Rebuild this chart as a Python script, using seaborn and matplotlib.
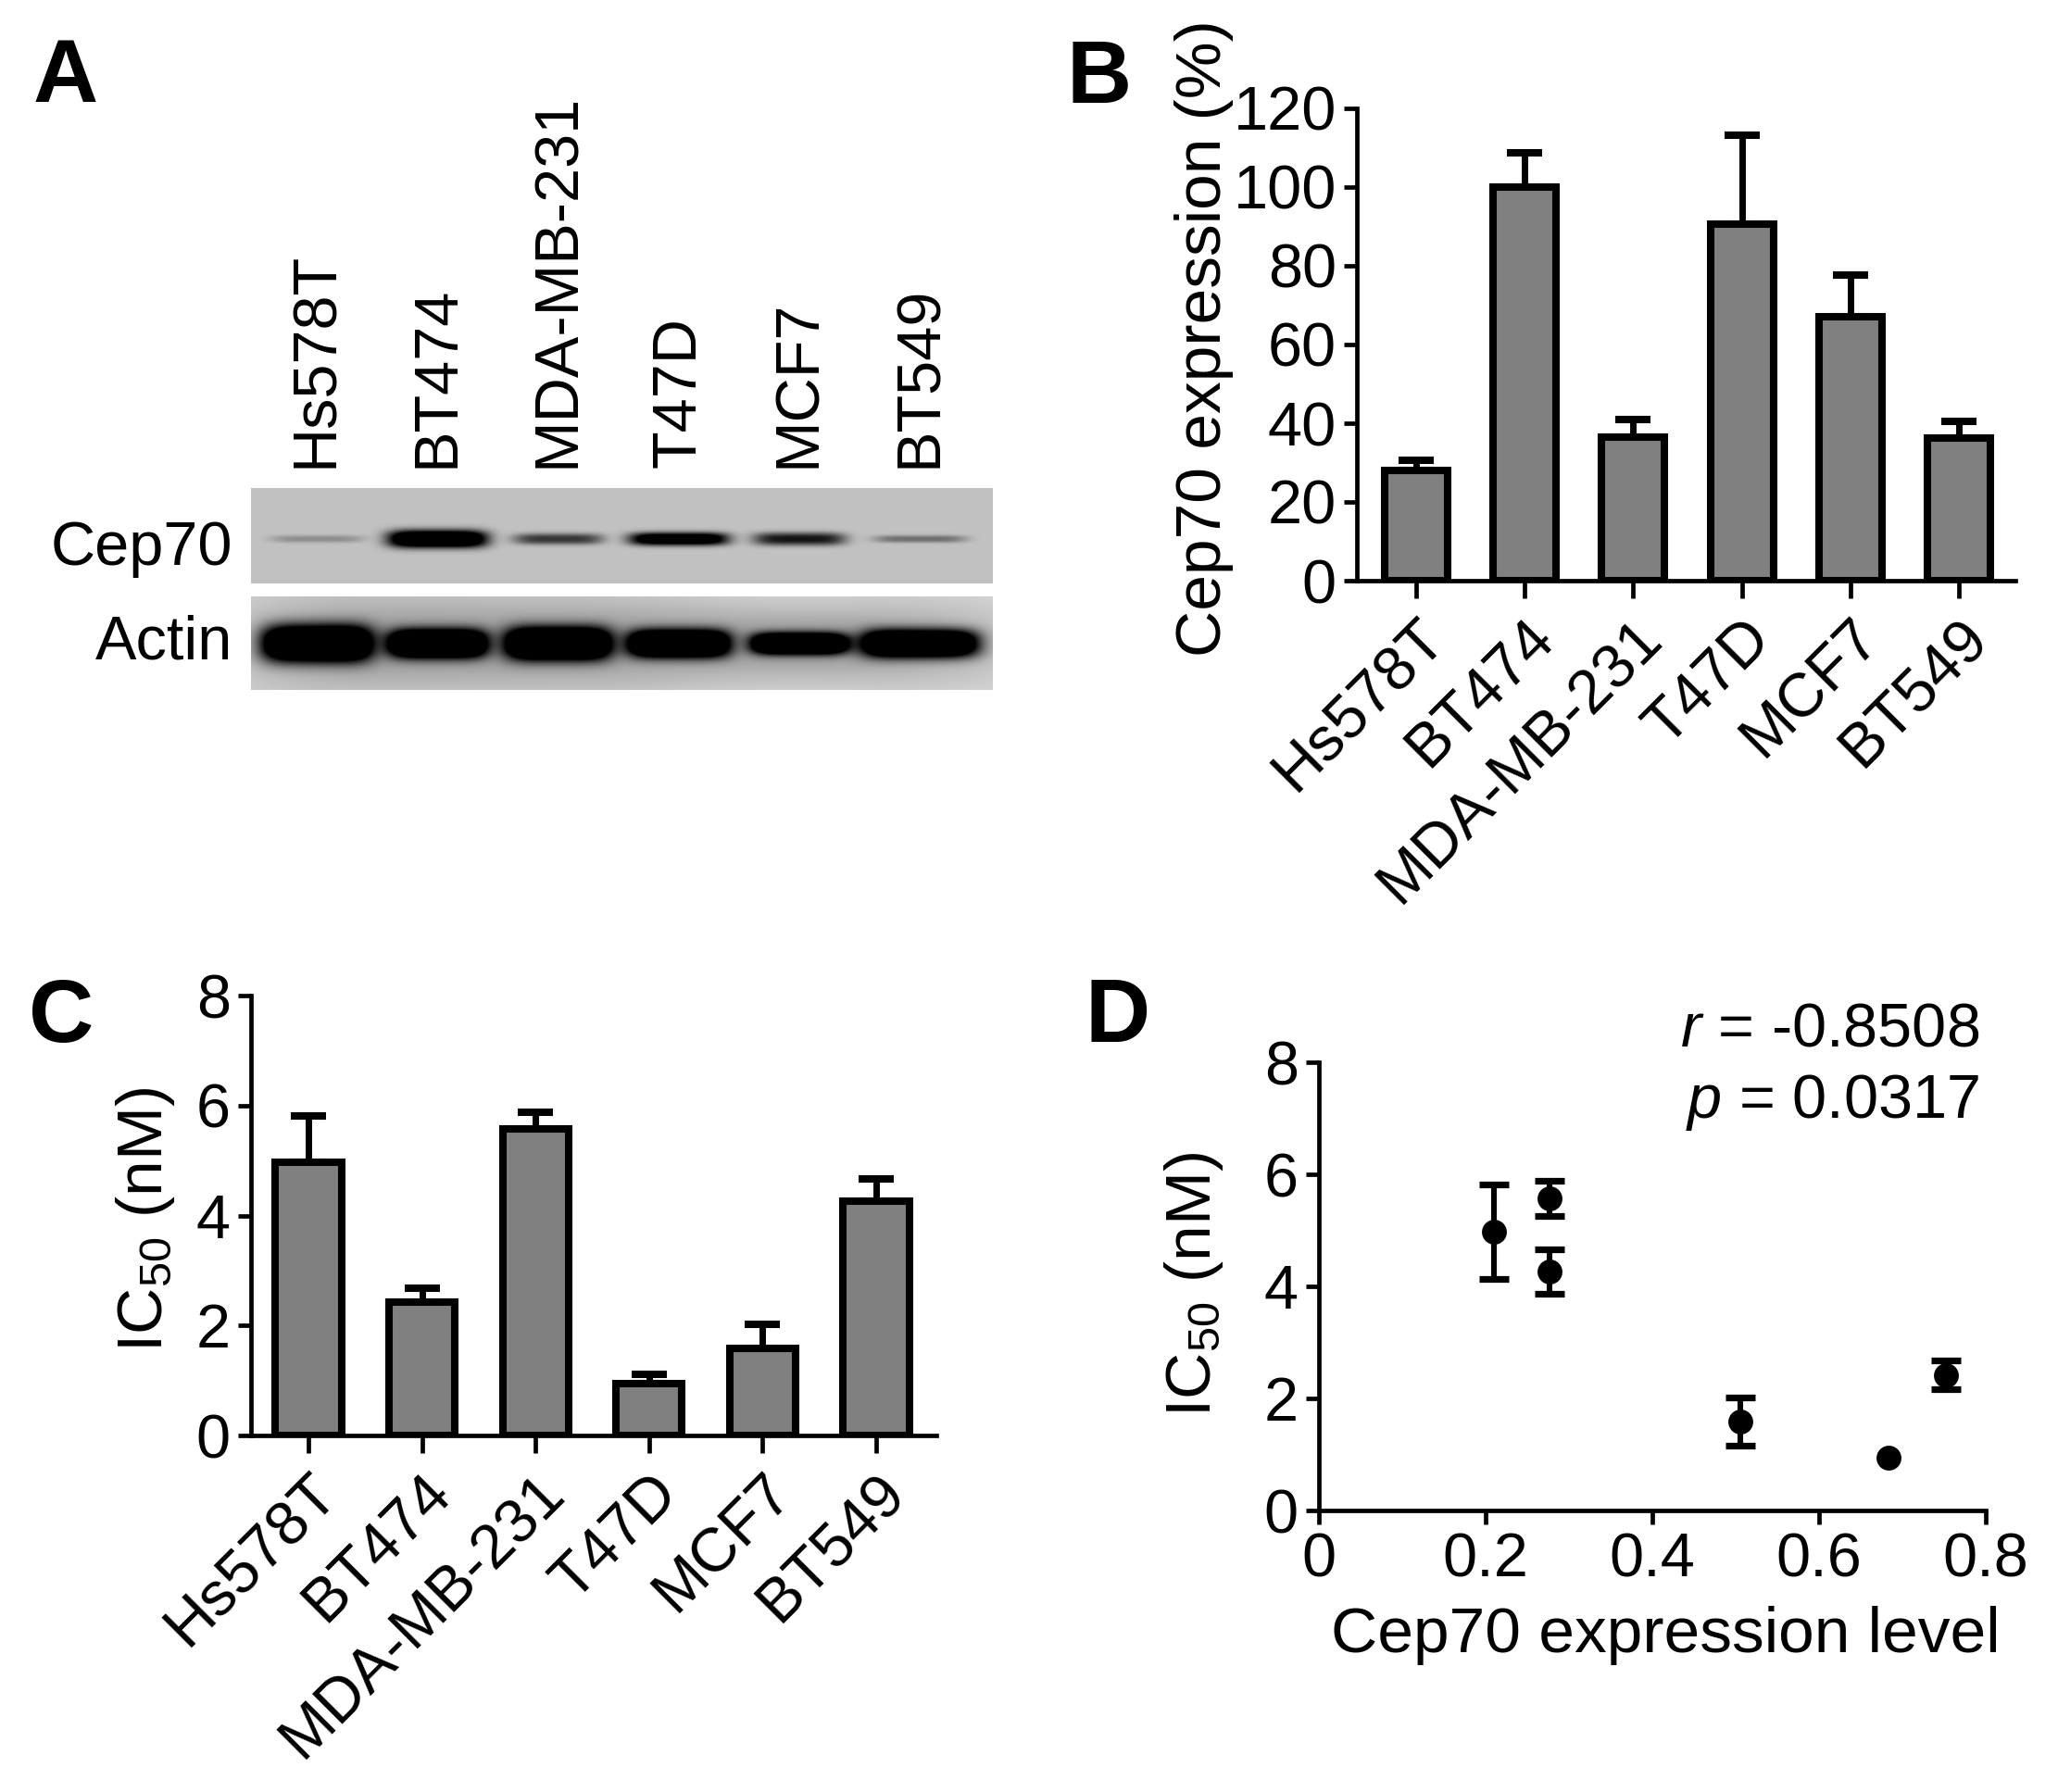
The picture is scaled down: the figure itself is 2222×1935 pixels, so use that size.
import numpy as np
import pandas as pd
import matplotlib
matplotlib.use("Agg")
import matplotlib.pyplot as plt
import seaborn as sns

# ---- data ----
cells = ["Hs578T", "BT474", "MDA-MB-231", "T47D", "MCF7", "BT549"]

# B: Cep70 expression (%) mean and SEM
cep70_pct = [28, 100, 36.5, 90.6, 67, 36.2]
cep70_sem = [2.5, 8.8, 4.5, 22.6, 10.6, 4.3]

# C: IC50 (nM) mean and SEM
ic50 = [4.97, 2.42, 5.57, 0.94, 1.59, 4.26]
ic50_sem = [0.84, 0.26, 0.31, 0.17, 0.43, 0.40]

# D: Cep70 expression level (x) vs IC50
cep70_level = [0.21, 0.752, 0.277, 0.683, 0.505, 0.277]
r_text = "-0.8508"
p_text = "0.0317"

# A: western blot band densities (0-1), band widths / heights in px
cep70_band = [0.15, 0.95, 0.4, 0.8, 0.5, 0.24]
cep70_band_w = [100, 108, 97, 108, 100, 100]
cep70_band_h = [8, 19, 12, 14, 14, 8]
actin_band = [1.0, 1.0, 1.0, 1.0, 1.0, 1.0]
actin_band_w = [121, 108, 116, 111, 105, 127]
actin_band_h = [40, 31, 36, 30, 23, 30]

W, H = 2222, 1935
DPI = 200
FS = 24

sns.set_style("ticks")
plt.rcParams["font.family"] = ["Liberation Sans", "DejaVu Sans"]
plt.rcParams["mathtext.fontset"] = "custom"
plt.rcParams["mathtext.rm"] = "Liberation Sans"
plt.rcParams["mathtext.it"] = "Liberation Sans:italic"
plt.rcParams["mathtext.bf"] = "Liberation Sans:bold"
for key in ["text.color", "axes.labelcolor", "xtick.color", "ytick.color", "axes.edgecolor"]:
    plt.rcParams[key] = "black"
plt.rcParams["axes.linewidth"] = 1.6

fig = plt.figure(figsize=(W / DPI, H / DPI), dpi=DPI)


def px_axes(x0, y0, x1, y1):
    return fig.add_axes([x0 / W, 1 - y1 / H, (x1 - x0) / W, (y1 - y0) / H])


def fpos(x, y):
    return x / W, 1 - y / H


def style_axes(ax):
    sns.despine(ax=ax)
    for s in ["left", "bottom"]:
        ax.spines[s].set_linewidth(1.7)
    ax.tick_params(axis="both", direction="out", width=1.7, labelsize=FS, colors="black")
    ax.tick_params(axis="y", length=5, pad=3)


# ---- A: western blot ----
XL = (-0.545, 5.6)
lane_px = (1072 - 271) / (XL[1] - XL[0])


def make_strip(dens, widths, heights, n_rows, row, bg, gain, halo=0.0):
    x = np.linspace(XL[0], XL[1], 801)
    y = np.arange(n_rows) + 0.5
    dark = np.zeros((n_rows, x.size))
    for i, (d, w, h) in enumerate(zip(dens, widths, heights)):
        fx = np.exp(-np.abs((x - i) / (w / lane_px / 2)) ** 5)
        fy = np.exp(-np.abs((y - row) / (h / 2)) ** 2.5)
        dark += d * np.outer(fy, fx)
        if halo:
            hx = np.exp(-0.5 * ((x - i) / (w / lane_px * 0.7)) ** 2)
            hy = np.exp(-0.5 * ((y - row) / (h * 1.1)) ** 2)
            dark += halo * d * np.outer(hy, hx)
    return bg * (1 - np.clip(gain * dark, 0, 1))


ax_c = px_axes(271, 527, 1072, 630)
img_c = make_strip(cep70_band, cep70_band_w, cep70_band_h, 103, 55, 0.76, 1.8)
ax_c.imshow(img_c, cmap="gray", vmin=0, vmax=1, aspect="auto",
            extent=(XL[0], XL[1], 103, 0), interpolation="bilinear")
ax_c.set_xlim(*XL)
ax_c.set_ylim(103, 0)
ax_c.set_xticks(range(len(cells)))
ax_c.set_xticklabels(cells, rotation=90, ha="center", va="bottom")
ax_c.tick_params(axis="x", top=True, bottom=False, labeltop=True, labelbottom=False,
                 length=0, pad=8, labelsize=FS)
ax_c.set_yticks([59])
ax_c.set_yticklabels(["Cep70"])
ax_c.tick_params(axis="y", length=0, pad=7, labelsize=FS)
for s in ax_c.spines.values():
    s.set_visible(False)

ax_a = px_axes(271, 644, 1072, 745)
img_a = make_strip(actin_band, actin_band_w, actin_band_h, 101, 51, 0.86, 1.7, halo=0.12)
ax_a.imshow(img_a, cmap="gray", vmin=0, vmax=1, aspect="auto",
            extent=(XL[0], XL[1], 101, 0), interpolation="bilinear")
ax_a.set_xlim(*XL)
ax_a.set_ylim(101, 0)
ax_a.set_xticks([])
ax_a.set_yticks([44])
ax_a.set_yticklabels(["Actin"])
ax_a.tick_params(axis="y", length=0, pad=7, labelsize=FS)
for s in ax_a.spines.values():
    s.set_visible(False)

# ---- B: Cep70 expression bars ----
ax_b = px_axes(1465, 117, 2176, 627)
df_b = pd.DataFrame({"cell": cells, "expr": cep70_pct})
sns.barplot(data=df_b, x="cell", y="expr", order=cells, color="#808080", saturation=1,
            edgecolor="black", linewidth=2.9, width=0.58, errorbar=None, ax=ax_b, zorder=2)
ax_b.errorbar(range(len(cells)), cep70_pct, yerr=[np.zeros(len(cells)), cep70_sem],
              fmt="none", ecolor="black", elinewidth=2.5, capsize=7, capthick=2.9, zorder=1)
ax_b.set_xlim(-0.546, 5.52)
ax_b.set_ylim(0, 120)
ax_b.set_yticks(range(0, 121, 20))
style_axes(ax_b)
ax_b.tick_params(axis="x", length=7, pad=4)
ax_b.set_xticks(range(len(cells)))
ax_b.set_xticklabels(cells, rotation=45, ha="right", va="top", rotation_mode="anchor")
ax_b.set_xlabel("")
ax_b.set_ylabel("Cep70 expression (%)", fontsize=25, va="center")
ax_b.yaxis.set_label_coords(*fpos(1300, 365), transform=fig.transFigure)

# ---- C: IC50 bars ----
ax_cc = px_axes(271, 1075, 1011, 1550)
df_c = pd.DataFrame({"cell": cells, "ic50": ic50})
sns.barplot(data=df_c, x="cell", y="ic50", order=cells, color="#808080", saturation=1,
            edgecolor="black", linewidth=2.9, width=0.58, errorbar=None, ax=ax_cc, zorder=2)
ax_cc.errorbar(range(len(cells)), ic50, yerr=[np.zeros(len(cells)), ic50_sem],
               fmt="none", ecolor="black", elinewidth=2.5, capsize=7, capthick=2.9, zorder=1)
ax_cc.set_xlim(-0.506, 5.53)
ax_cc.set_ylim(0, 8)
ax_cc.set_yticks(range(0, 9, 2))
style_axes(ax_cc)
ax_cc.tick_params(axis="x", length=7, pad=4)
ax_cc.set_xticks(range(len(cells)))
ax_cc.set_xticklabels(cells, rotation=45, ha="right", va="top", rotation_mode="anchor")
ax_cc.set_xlabel("")
ax_cc.set_ylabel(r"IC$_{50}$ (nM)", fontsize=25, va="center")
ax_cc.yaxis.set_label_coords(*fpos(157, 1317), transform=fig.transFigure)

# ---- D: correlation scatter ----
ax_d = px_axes(1424, 1147, 2144, 1631)
df_d = pd.DataFrame({"level": cep70_level, "ic50": ic50, "sem": ic50_sem})
# Prism hides error bars that are shorter than the symbol
shown = df_d[df_d["sem"] > 0.2]
ax_d.errorbar(shown["level"], shown["ic50"], yerr=shown["sem"], fmt="none", ecolor="black",
              elinewidth=2.2, capsize=5.7, capthick=2.6, zorder=2)
sns.scatterplot(data=df_d, x="level", y="ic50", color="black", edgecolor="black",
                s=80, ax=ax_d, zorder=3, clip_on=False)
ax_d.set_xlim(0, 0.8)
ax_d.set_ylim(0, 8)
ax_d.set_xticks([0, 0.2, 0.4, 0.6, 0.8])
ax_d.set_xticklabels(["0", "0.2", "0.4", "0.6", "0.8"])
ax_d.set_yticks(range(0, 9, 2))
style_axes(ax_d)
ax_d.tick_params(axis="x", length=5.5, pad=3)
ax_d.set_xlabel("Cep70 expression level", fontsize=25, va="center")
ax_d.xaxis.set_label_coords(*fpos(1798, 1766), transform=fig.transFigure)
ax_d.set_ylabel(r"IC$_{50}$ (nM)", fontsize=25, va="center")
ax_d.yaxis.set_label_coords(*fpos(1289, 1387), transform=fig.transFigure)
fig.text(*fpos(2137, 1129), r"$r$ = " + r_text, fontsize=FS, ha="right", va="baseline")
fig.text(*fpos(2137, 1207), r"$p$ = " + p_text, fontsize=FS, ha="right", va="baseline")

# ---- panel letters ----
for letter, (x, y) in {"A": (36, 110), "B": (1151, 111), "C": (31, 1125), "D": (1171, 1125)}.items():
    fig.text(*fpos(x, y), letter, fontsize=35, fontweight="bold", ha="left", va="baseline")

fig.savefig("out.png", dpi=DPI, facecolor="white")
